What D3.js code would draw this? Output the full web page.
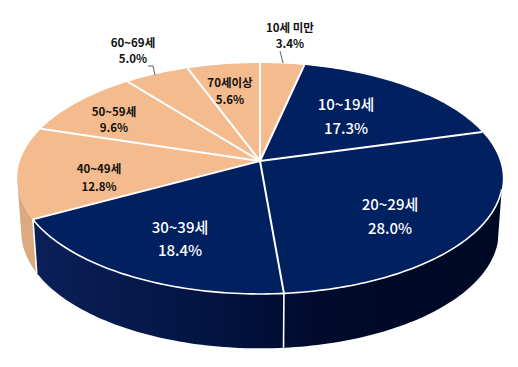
<!DOCTYPE html>
<html>
<head>
<meta charset="utf-8">
<script src="https://cdn.jsdelivr.net/npm/d3@7"></script>
<style>
html, body { margin: 0; padding: 0; background: #fff; }
text { font-family: "Noto Sans CJK KR", "Noto Sans", sans-serif; text-anchor: middle; dominant-baseline: central; }
</style>
</head>
<body>
<div id="chart"></div>
<script>
// categories and values, clockwise from 12 o'clock
const categories = ["10세 미만", "10~19세", "20~29세", "30~39세", "40~49세", "50~59세", "60~69세", "70세이상"];
const shares = [3.4, 17.3, 28.0, 18.4, 12.8, 9.6, 5.0, 5.6];
const shareLabels = ["3.4%", "17.3%", "28.0%", "18.4%", "12.8%", "9.6%", "5.0%", "5.6%"];
const groups = ["light", "dark", "dark", "dark", "light", "light", "light", "light"];

const width = 518, height = 367;

// label centres: [x, name line y, share line y]
const labelSpots = [
    [290, 27, 43], [346, 103, 127], [390, 203, 227], [180, 226, 249],
    [99, 168, 186], [114, 111, 127], [133, 42, 58], [230, 82, 99]
];
// leader lines for the two labels that sit outside
const leaders = [
    [[280, 51], [283, 63]],
    [[148, 66], [153, 66], [155, 75]]
];

const svg = d3.select("#chart").append("svg")
    .attr("width", width)
    .attr("height", height);

const defs = svg.append("defs");
const wallGrad = defs.append("linearGradient").attr("id", "wallDark");
wallGrad.append("stop").attr("offset", "0%").attr("stop-color", "#0b2058");
wallGrad.append("stop").attr("offset", "40%").attr("stop-color", "#021341");
wallGrad.append("stop").attr("offset", "62%").attr("stop-color", "#000a2a");
wallGrad.append("stop").attr("offset", "100%").attr("stop-color", "#000923");

// tilted disc seen in perspective
const tilt = 0.1515;
const topRim = {B: 240, A: 112.8, cy: 161};
const bottomRim = {B: 236, A: 114, cy: 214};
function project(angle, rim, r = 1) {
    const X = r * Math.sin(angle), Y = r * Math.cos(angle), d = 1 + tilt * Y;
    return [260 + rim.B * X / d, rim.cy - rim.A * Y / d];
}
function arcPoints(a0, a1, rim) {
    const n = Math.max(2, Math.ceil(Math.abs(a1 - a0) / 0.02));
    return d3.range(n + 1).map(i => project(a0 + (a1 - a0) * i / n, rim));
}

const arcs = d3.pie().sort(null).value(d => d)(shares);
const line = d3.line();
const color = {dark: "#002060", light: "#f4bb8e"};

// side wall, only the part of the rim facing the viewer
const wallStart = 104 * Math.PI / 180, wallEnd = 258 * Math.PI / 180;
const wallSplit = arcs[3].endAngle;
function wall(a0, a1, fill) {
    const pts = arcPoints(a0, a1, topRim).concat(arcPoints(a1, a0, bottomRim));
    svg.append("path").attr("d", line(pts) + "Z").attr("fill", fill);
}
wall(wallStart, wallSplit, "url(#wallDark)");
wall(wallSplit, wallEnd, "#dcaa7f");

// top faces
arcs.forEach((a, i) => {
    const pts = [project(0, topRim, 0)].concat(arcPoints(a.startAngle, a.endAngle, topRim));
    svg.append("path")
        .attr("d", line(pts) + "Z")
        .attr("fill", color[groups[i]]);
});

// white dividers
arcs.forEach(a => {
    svg.append("path")
        .attr("d", line([project(0, topRim, 0), project(a.startAngle, topRim)]))
        .attr("stroke", "#fff").attr("stroke-width", 2).attr("fill", "none");
});
svg.append("path")
    .attr("d", line(arcPoints(wallStart, wallSplit, topRim)))
    .attr("stroke", "#fff").attr("stroke-width", 1.6).attr("fill", "none");
[arcs[3].startAngle, wallSplit].forEach(a => {
    svg.append("path")
        .attr("d", line([project(a, topRim), project(a, bottomRim)]))
        .attr("stroke", "#fff").attr("stroke-width", 1.6).attr("fill", "none");
});

// leader lines
leaders.forEach(pts => {
    svg.append("path").attr("d", line(pts))
        .attr("stroke", "#333").attr("stroke-width", 0.8).attr("fill", "none");
});

// labels
categories.forEach((name, i) => {
    const dark = groups[i] === "dark";
    const g = svg.append("g")
        .attr("fill", dark ? "#fff" : "#111")
        .attr("font-size", dark ? 15 : 11.5)
        .attr("font-weight", dark ? 500 : 700);
    g.append("text").attr("x", labelSpots[i][0]).attr("y", labelSpots[i][1]).text(name);
    g.append("text").attr("x", labelSpots[i][0]).attr("y", labelSpots[i][2]).text(shareLabels[i]);
});
</script>
</body>
</html>
